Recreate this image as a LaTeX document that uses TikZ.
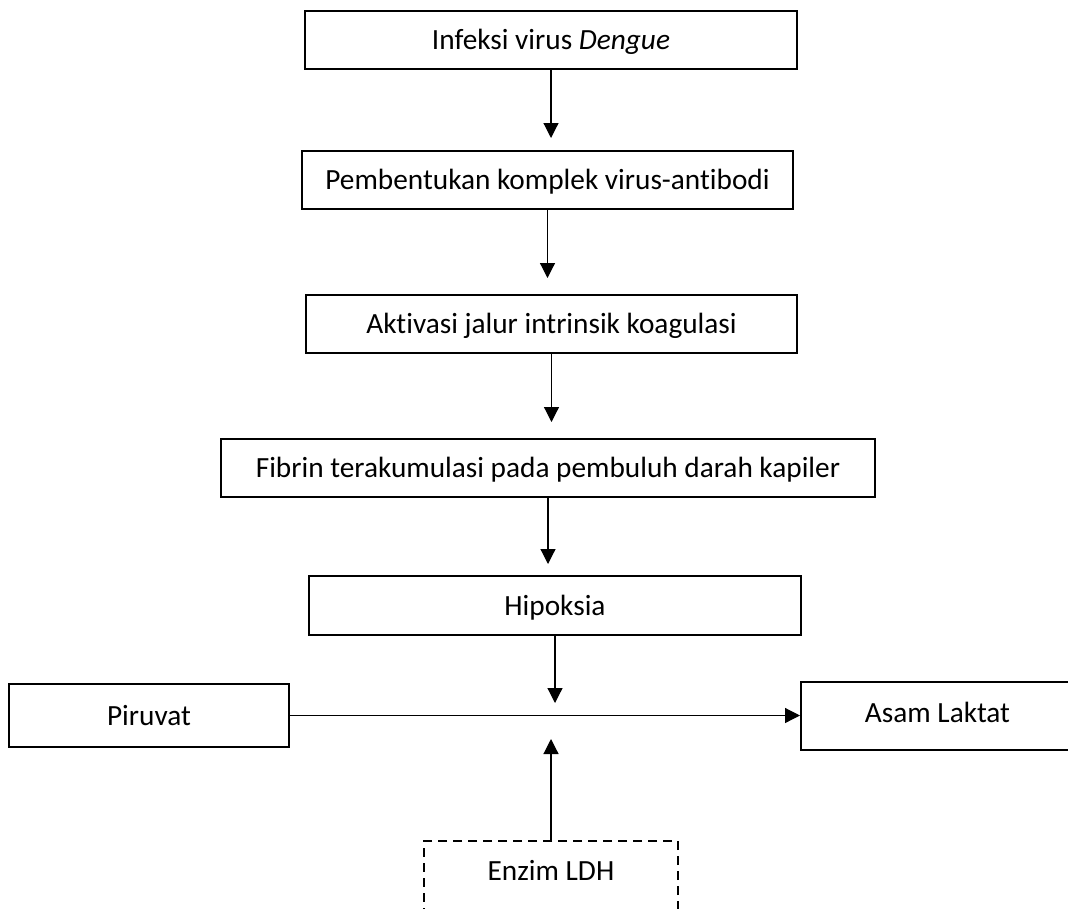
\documentclass[tikz,border=0pt]{standalone}
\usepackage{fontspec}
\setmainfont[Ligatures={NoCommon,NoContextual}]{Carlito}
\usetikzlibrary{arrows.meta}

\tikzset{
  kotak/.style={draw, line width=2pt, minimum height=58pt, inner sep=0pt,
    text height=19pt, text depth=0pt, font=\fontsize{29.3}{34}\selectfont},
  panah/.style={line width=1.2pt, -{Triangle[length=15pt,width=15pt]}},
}

\begin{document}
\begin{tikzpicture}[x=1pt,y=-1pt]
		\clip (0,0) rectangle (1068,908);
		\useasboundingbox (0,0) rectangle (1068,908);
		% alur utama
		\node[kotak, minimum width=492pt] (infeksi) at (551,39.5) {Infeksi virus \textit{Dengue}};
		\node[kotak, minimum width=491pt] (komplek) at (547.5,180) {Pembentukan komplek virus-antibodi};
		\node[kotak, minimum width=491pt] (aktivasi) at (551.5,324) {Aktivasi jalur intrinsik koagulasi};
		\node[kotak, minimum width=654pt] (fibrin) at (548,468) {Fibrin terakumulasi pada pembuluh darah kapiler};
		\node[kotak, minimum width=492pt, minimum height=59pt] (hipoksia) at (555,605.5) {Hipoksia};
		% reaksi
		\node[kotak, minimum width=280pt, minimum height=63pt] (piruvat) at (149,715.5) {Piruvat};
		\node[kotak, minimum width=273pt, minimum height=68pt, text depth=6pt] (asam) at (937.5,716) {Asam Laktat};
		\node[kotak, dash pattern=on 9pt off 6pt, line width=1.5pt, text depth=11pt,
			minimum width=254pt, minimum height=70pt] (enzim) at (551,876) {Enzim LDH};
		\coordinate (atas) at (555,703);
		\coordinate (bawah) at (551,739);
		% panah
		\draw[panah, shorten >=12pt] (infeksi.south) -- (infeksi.south |- komplek.north);
		\draw[panah, shorten >=16pt] (komplek.south) -- (komplek.south |- aktivasi.north);
		\draw[panah, shorten >=16pt] (aktivasi.south) -- (aktivasi.south |- fibrin.north);
		\draw[panah, shorten >=11pt] (fibrin.south) -- (fibrin.south |- hipoksia.north);
		\draw[panah] (hipoksia.south) -- (atas);
		\draw[panah] (piruvat.east) -- (piruvat.east -| asam.west);
		\draw[panah] (enzim.north) -- (bawah);
	\end{tikzpicture}
\end{document}
